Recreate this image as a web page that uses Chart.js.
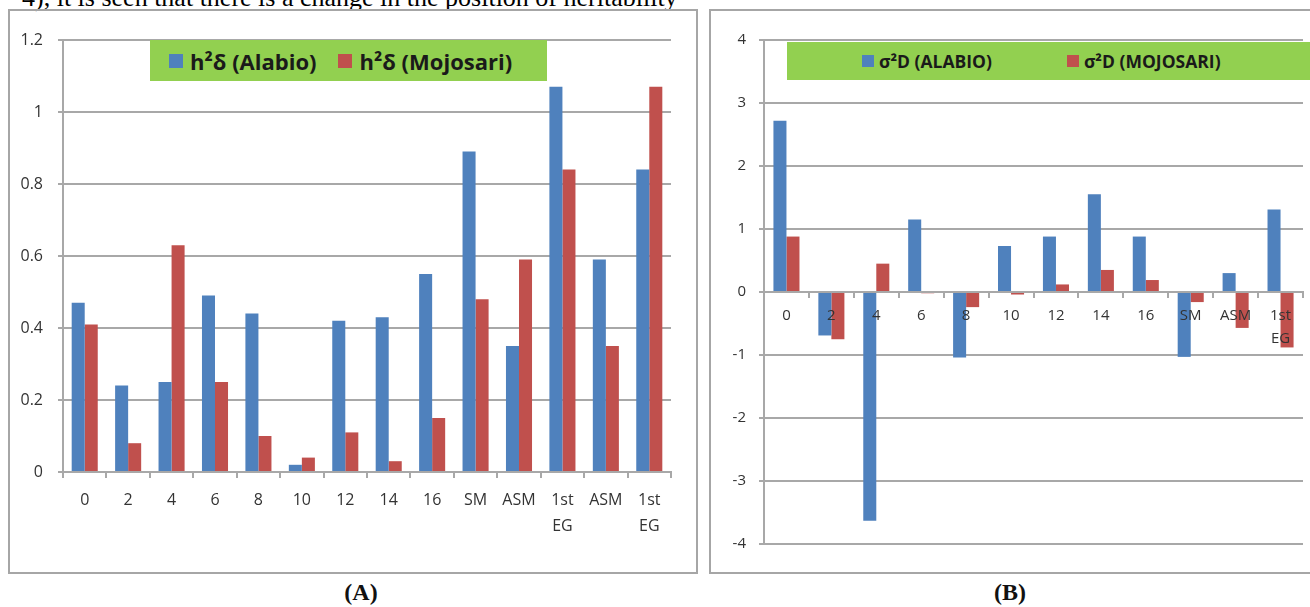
<!DOCTYPE html>
<html>
<head>
<meta charset="utf-8">
<script src="https://cdn.jsdelivr.net/npm/chart.js@4.4.0/dist/chart.umd.min.js"></script>
<style>
    body { margin: 0; width: 1310px; height: 607px; position: relative; overflow: hidden; background: #fff; }
    .abs { position: absolute; }
    .panel { position: absolute; border: 2px solid #a6a6a6; box-sizing: border-box; }
    #topline { left: 22px; top: -15px; font: 26px "Liberation Serif", serif; line-height: 26px; color: #000; white-space: nowrap; }
    .cap { font: bold 24px "Liberation Serif", serif; color: #111; width: 60px; text-align: center; }
    .legend { position: absolute; background: #92d050; display: flex; align-items: center; color: #1a1a1a; font-family: "Open Sans", sans-serif; font-weight: bold; white-space: nowrap; }
    .legend .sw { display: inline-block; }
</style>
</head>
<body>
<div id="topline" class="abs">4), it is seen that there is a change in the position of heritability</div>

<div class="panel" style="left:8px;top:9px;width:690px;height:565px"></div>
<div class="panel" style="left:709px;top:9px;width:640px;height:565px"></div>

<canvas id="chartA" class="abs" style="left:10px;top:11px"></canvas>
<canvas id="chartB" class="abs" style="left:711px;top:11px"></canvas>

<div id="legendA" class="legend" style="left:150px;top:40px;width:378px;height:41px;font-size:22px"></div>
<div id="legendB" class="legend" style="left:787px;top:42px;width:513px;height:38px;font-size:17.5px"></div>

<div class="abs cap" style="left:331px;top:579px">(A)</div>
<div class="abs cap" style="left:980px;top:579px">(B)</div>

<script>
// panel A: h²δ
const labelsA = ["0", "2", "4", "6", "8", "10", "12", "14", "16", "SM", "ASM", ["1st", "EG"], "ASM", ["1st", "EG"]];
const alabioA = [0.47, 0.24, 0.25, 0.49, 0.44, 0.02, 0.42, 0.43, 0.55, 0.89, 0.35, 1.07, 0.59, 0.84];
const mojosariA = [0.41, 0.08, 0.63, 0.25, 0.10, 0.04, 0.11, 0.03, 0.15, 0.48, 0.59, 0.84, 0.35, 1.07];
const yTicksA = [0, 0.2, 0.4, 0.6, 0.8, 1, 1.2];

// panel B: σ²D
const labelsB = ["0", "2", "4", "6", "8", "10", "12", "14", "16", "SM", "ASM", ["1st", "EG"]];
const alabioB = [2.72, -0.69, -3.63, 1.15, -1.04, 0.73, 0.88, 1.55, 0.88, -1.03, 0.30, 1.31];
const mojosariB = [0.88, -0.75, 0.45, -0.02, -0.24, -0.04, 0.12, 0.35, 0.19, -0.16, -0.57, -0.88];
const yTicksB = [-4, -3, -2, -1, 0, 1, 2, 3, 4];

const blue = "#4f81bd";
const red = "#c0504d";
const gridCol = "#a8a8a8";
const txtCol = "#333";

function makeChart(id, w, h, cfg) {
    const cv = document.getElementById(id);
    cv.width = w;
    cv.height = h;
    cv.style.width = w + "px";
    cv.style.height = h + "px";
    return new Chart(cv.getContext("2d"), {
        type: "bar",
        data: {
            labels: cfg.labels,
            datasets: [
                { label: cfg.names[0], data: cfg.a, backgroundColor: blue, categoryPercentage: cfg.cat, barPercentage: 1 },
                { label: cfg.names[1], data: cfg.b, backgroundColor: red, categoryPercentage: cfg.cat, barPercentage: 1 },
            ],
        },
        options: {
            responsive: false,
            animation: false,
            layout: { padding: cfg.padding },
            plugins: { legend: { display: false }, tooltip: { enabled: false } },
            scales: {
                x: {
                    position: cfg.xPos,
                    offset: true,
                    grid: { drawOnChartArea: false, drawTicks: true, tickLength: cfg.tickLen, color: gridCol, lineWidth: 2, offset: true },
                    border: { display: true, color: gridCol, width: 2 },
                    ticks: {
                        z: cfg.xZ, // labels in B sit over the bars
                        color: txtCol,
                        font: { family: "Open Sans", size: cfg.fs, lineHeight: cfg.lh },
                        padding: cfg.xPad,
                        maxRotation: 0,
                        autoSkip: false,
                    },
                    afterFit: (s) => { if (cfg.xH) s.height = cfg.xH; },
                },
                y: {
                    min: cfg.ticks[0],
                    max: cfg.ticks[cfg.ticks.length - 1],
                    afterBuildTicks: (s) => { s.ticks = cfg.ticks.map((v) => ({ value: v })); },
                    grid: { color: gridCol, lineWidth: 2, tickLength: 5 },
                    border: { display: true, color: gridCol, width: 2 },
                    ticks: {
                        color: txtCol,
                        font: { family: "Open Sans", size: cfg.fs },
                        padding: cfg.yPad,
                        callback: (v) => String(v),
                    },
                    afterFit: (s) => { s.width = 53; },
                },
            },
        },
    });
}

function buildLegend(id, chart, gap, sw) {
    const el = document.getElementById(id);
    el.style.paddingLeft = gap[0] + "px";
    chart.data.datasets.forEach((ds, i) => {
        const item = document.createElement("span");
        item.style.display = "inline-flex";
        item.style.alignItems = "center";
        item.style.marginRight = (i === 0 ? gap[1] : 0) + "px";
        item.innerHTML = '<span class="sw" style="width:' + sw + "px;height:" + sw + "px;background:" + ds.backgroundColor + ';margin-right:' + gap[2] + 'px"></span>' + ds.label;
        el.appendChild(item);
    });
}

const chartA = makeChart("chartA", 686, 561, {
    labels: labelsA, a: alabioA, b: mojosariA, names: ["h²δ (Alabio)", "h²δ (Mojosari)"],
    cat: 0.6, ticks: yTicksA, fs: 16, lh: 1.65, xPad: 9, yPad: 15, tickLen: 6, xZ: 0,
    xPos: "bottom", xH: 100, padding: { top: 29, right: 25, bottom: 0, left: 0 },
});

const chartB = makeChart("chartB", 599, 561, {
    labels: labelsB, a: alabioB, b: mojosariB, names: ["σ²D (ALABIO)", "σ²D (MOJOSARI)"],
    cat: 0.58, ticks: yTicksB, fs: 15, lh: 1.55, xPad: 7, yPad: 13, tickLen: 5, xZ: 1,
    xPos: { y: 0 }, xH: 0, padding: { top: 29, right: 7, bottom: 28, left: 0 },
});

buildLegend("legendA", chartA, [19, 22, 7], 14);
buildLegend("legendB", chartB, [75, 75, 5], 12);
</script>
</body>
</html>
